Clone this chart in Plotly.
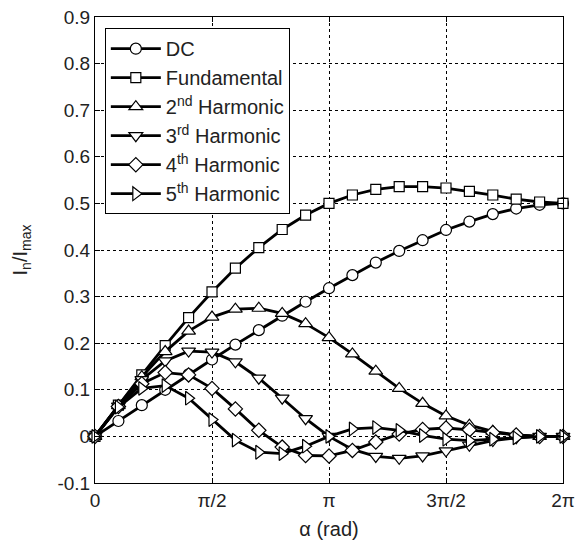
import math
import plotly.graph_objects as go

# Conduction angle alpha, in multiples of pi
alpha_over_pi = [0.0, 0.1, 0.2, 0.3, 0.4, 0.5, 0.6, 0.7, 0.8, 0.9, 1.0,
                 1.1, 1.2, 1.3, 1.4, 1.5, 1.6, 1.7, 1.8, 1.9, 2.0]

dc = [0.0, 0.033, 0.067, 0.100, 0.133, 0.165, 0.197, 0.228, 0.259, 0.289, 0.318,
      0.346, 0.373, 0.398, 0.421, 0.443, 0.461, 0.477, 0.489, 0.497, 0.500]
fundamental = [0.0, 0.067, 0.132, 0.195, 0.255, 0.310, 0.361, 0.405, 0.444, 0.475, 0.500,
               0.518, 0.530, 0.536, 0.536, 0.533, 0.526, 0.518, 0.509, 0.503, 0.500]
h2 = [0.0, 0.066, 0.128, 0.182, 0.226, 0.256, 0.273, 0.275, 0.264, 0.242, 0.212,
      0.177, 0.140, 0.103, 0.071, 0.044, 0.024, 0.011, 0.003, 0.000, 0.0]
h3 = [0.0, 0.065, 0.122, 0.162, 0.183, 0.181, 0.160, 0.125, 0.082, 0.038, 0.0,
      -0.028, -0.043, -0.047, -0.042, -0.031, -0.019, -0.009, -0.003, -0.000, 0.0]
h4 = [0.0, 0.064, 0.113, 0.137, 0.132, 0.103, 0.059, 0.013, -0.023, -0.041, -0.042,
      -0.030, -0.012, 0.005, 0.015, 0.018, 0.014, 0.008, 0.003, 0.000, 0.0]
h5 = [0.0, 0.063, 0.103, 0.109, 0.082, 0.036, -0.008, -0.034, -0.037, -0.021, 0.0,
      0.016, 0.019, 0.013, 0.002, -0.006, -0.009, -0.006, -0.003, -0.000, 0.0]

series_names = ["DC", "Fundamental", "2<sup>nd</sup> Harmonic", "3<sup>rd</sup> Harmonic",
                "4<sup>th</sup> Harmonic", "5<sup>th</sup> Harmonic"]
series_values = [dc, fundamental, h2, h3, h4, h5]
symbols = ["circle", "square", "triangle-up", "triangle-down", "diamond", "triangle-right"]
sizes = [11, 10, 12, 12, 11, 12]

x_tick_over_pi = [0, 0.5, 1, 1.5, 2]
x_tick_text = ["0", "π/2", "π", "3π/2", "2π"]
y_ticks = [-0.1, 0.0, 0.1, 0.2, 0.3, 0.4, 0.5, 0.6, 0.7, 0.8, 0.9]
y_tick_text = ["-0.1", "0", "0.1", "0.2", "0.3", "0.4", "0.5", "0.6", "0.7", "0.8", "0.9"]

x = [a * math.pi for a in alpha_over_pi]

FONT = "Liberation Sans, Arial, Helvetica, sans-serif"

fig = go.Figure()
for name, vals, sym, sz in zip(series_names, series_values, symbols, sizes):
    fig.add_trace(go.Scatter(
        x=x, y=vals, name=name, mode="lines+markers",
        line=dict(color="black", width=2.8),
        marker=dict(symbol=sym, size=sz, color="white",
                    line=dict(color="black", width=1.2)),
        cliponaxis=False,
    ))

axis_common = dict(
    showline=True, linecolor="black", linewidth=1, mirror="ticks",
    ticks="inside", ticklen=5, tickcolor="black", tickwidth=1,
    showgrid=True, gridcolor="black", gridwidth=1, griddash="dot",
    zeroline=False, automargin=False,
    tickfont=dict(family=FONT, size=19, color="#222"),
)

fig.update_layout(
    width=576, height=546,
    margin=dict(l=95, r=13, t=17, b=63),
    paper_bgcolor="white", plot_bgcolor="white",
    font=dict(family=FONT, size=19, color="#222"),
    xaxis=dict(range=[0, 2 * math.pi],
               tickvals=[t * math.pi for t in x_tick_over_pi], ticktext=x_tick_text,
               title=dict(text="α (rad)", font=dict(family=FONT, size=20), standoff=12),
               **axis_common),
    yaxis=dict(range=[-0.1, 0.9], tickvals=y_ticks, ticktext=y_tick_text,
               title=dict(text="I<sub>n</sub>/I<sub>max</sub>", font=dict(family=FONT, size=20), standoff=24),
               **axis_common),
    legend=dict(x=0.021, y=0.976, xanchor="left", yanchor="top",
                bgcolor="white", bordercolor="black", borderwidth=1,
                font=dict(family=FONT, size=20, color="#222"),
                itemwidth=50, tracegroupgap=0),
    showlegend=True,
)

fig.write_html("out.html")
